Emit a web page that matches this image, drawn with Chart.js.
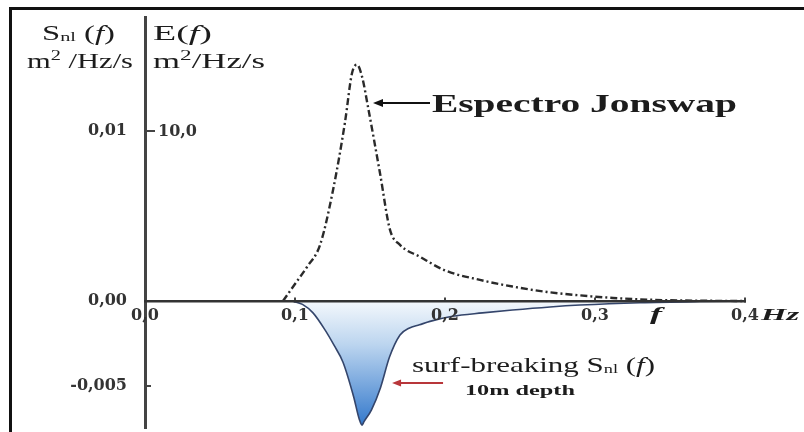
<!DOCTYPE html>
<html>
<head>
<meta charset="utf-8">
<script src="https://cdn.jsdelivr.net/npm/chart.js@4.4.1/dist/chart.umd.min.js"></script>
<style>
  html, body { margin: 0; padding: 0; background: #fff; }
  #wrap { position: relative; width: 804px; height: 432px; }
  #frame { position: absolute; left: 9px; top: 7px; width: 792px; height: 425px;
           border-left: 3px solid #111; border-top: 3px solid #111; pointer-events: none; }
</style>
</head>
<body>
<div id="wrap"><canvas id="chart" width="804" height="432"></canvas><div id="frame"></div></div>
<script>
// ─── DADOS ───
// espectro Jonswap E(f), m2/Hz/s
const jonswapFreq = [0.092, 0.100, 0.108, 0.1167, 0.1253, 0.1333, 0.138, 0.1413, 0.1447, 0.1487, 0.1567, 0.1633,
                     0.170, 0.1833, 0.200, 0.2233, 0.245, 0.268, 0.290, 0.312, 0.335, 0.357, 0.380, 0.400];
const jonswapE = [0, 1.0, 2.0, 3.3, 6.5, 10.5, 13.4, 13.9, 13.2, 11.4, 7.5, 4.2,
                  3.3, 2.6, 1.8, 1.24, 0.85, 0.53, 0.33, 0.18, 0.08, 0.03, 0.01, 0];

// surf-breaking Snl(f), 10m depth
const snlFreq = [0.098, 0.105, 0.112, 0.120, 0.126, 0.132, 0.139, 0.143, 0.1447, 0.146, 0.151, 0.157, 0.163,
                 0.170, 0.176, 0.183, 0.190, 0.205, 0.225, 0.245, 0.270, 0.290, 0.330, 0.370, 0.400];
const snlValues = [0, -0.0002, -0.0007, -0.0017, -0.0026, -0.0036, -0.0056, -0.0070, -0.0073, -0.0071, -0.0064, -0.0051, -0.0033,
                   -0.0020, -0.0016, -0.0014, -0.0012, -0.0009, -0.0007, -0.00053, -0.00035, -0.00024, -0.0001, -0.00003, 0];

const xTicks = [0, 0.1, 0.2, 0.3, 0.4];
const xTickLabels = ['0,0', '0,1', '0,2', '0,3', '0,4'];
const snlTicks = [-0.005, 0, 0.01];
const snlTickLabels = ['-0,005', '0,00', '0,01'];
const eTicks = [10];
const eTickLabels = ['10,0'];

const SERIF = '"Liberation Serif", "Times New Roman", serif';
const TICKFONT = { family: '"DejaVu Serif", serif', weight: 'bold', size: 16 };

// texto em "pedaços" (subscrito, itálico), esticado até a largura pedida
function drawRuns(ctx, runs, x, y, targetW, align) {
  ctx.save();
  ctx.textBaseline = 'alphabetic';
  ctx.textAlign = 'left';
  let w = 0;
  runs.forEach(r => { ctx.font = r[1]; w += ctx.measureText(r[0]).width; });
  const sx = targetW ? targetW / w : 1;
  const x0 = align === 'center' ? x - (w * sx) / 2 : x;
  ctx.translate(x0, y);
  ctx.scale(sx, 1);
  let pos = 0;
  runs.forEach(r => {
    ctx.font = r[1];
    ctx.fillText(r[0], pos, r[2] || 0);
    pos += ctx.measureText(r[0]).width;
  });
  ctx.restore();
}

function arrow(ctx, x1, y1, x2, y2, color, head) {
  ctx.save();
  ctx.strokeStyle = color;
  ctx.fillStyle = color;
  ctx.lineWidth = 2;
  ctx.beginPath();
  ctx.moveTo(x1, y1);
  ctx.lineTo(x2 + head, y2);
  ctx.stroke();
  ctx.beginPath();
  ctx.moveTo(x2, y2);
  ctx.lineTo(x2 + head + 2, y2 - head * 0.5);
  ctx.lineTo(x2 + head + 2, y2 + head * 0.5);
  ctx.closePath();
  ctx.fill();
  ctx.restore();
}

const annotations = {
  id: 'annotations',
  afterDraw(chart) {
    const { ctx, scales } = chart;
    const x = scales.x, ys = scales.y, ye = scales.yE;
    const ax = x.getPixelForValue(0);

    ctx.save();
    ctx.fillStyle = '#1c1c1c';

    // eixo E(f): marca e rótulo à direita do eixo
    ctx.strokeStyle = '#444';
    ctx.lineWidth = 2;
    eTicks.forEach((v, i) => {
      const py = ye.getPixelForValue(v);
      ctx.beginPath(); ctx.moveTo(ax, py); ctx.lineTo(ax + 10, py); ctx.stroke();
      ctx.font = `bold ${TICKFONT.size}px ${TICKFONT.family}`;
      ctx.fillStyle = '#333';
      ctx.textBaseline = 'middle';
      ctx.fillText(eTickLabels[i], ax + 13, py + 1);
    });
    const p5 = ys.getPixelForValue(-0.005);
    ctx.beginPath(); ctx.moveTo(ax, p5); ctx.lineTo(ax + 6, p5); ctx.stroke();

    ctx.fillStyle = '#1c1c1c';
    // títulos dos eixos
    drawRuns(ctx, [['S', `21px ${SERIF}`], ['nl', `13px ${SERIF}`, 1], [' (', `21px ${SERIF}`], ['f', `italic 21px ${SERIF}`], [')', `21px ${SERIF}`]], 42, 40, 73);
    drawRuns(ctx, [['m', `21px ${SERIF}`], ['2', `14px ${SERIF}`, -8], [' /Hz/s', `21px ${SERIF}`]], 27, 68, 106);
    drawRuns(ctx, [['E(', `21px ${SERIF}`], ['f', `italic 21px ${SERIF}`], [')', `21px ${SERIF}`]], ax + 8, 40, 59);
    drawRuns(ctx, [['m', `21px ${SERIF}`], ['2', `14px ${SERIF}`, -8], ['/Hz/s', `21px ${SERIF}`]], ax + 8, 68, 112);

    // Espectro Jonswap
    const ej = ye.getPixelForValue(11.65);
    arrow(ctx, x.getPixelForValue(0.190), ej, x.getPixelForValue(0.152), ej, '#111', 8);
    drawRuns(ctx, [['Espectro Jonswap', `bold 26px ${SERIF}`]], x.getPixelForValue(0.1913), ej + 9, 305);

    // surf-breaking Snl(f)
    drawRuns(ctx, [['surf-breaking S', `22px ${SERIF}`], ['nl', `13px ${SERIF}`, 1], [' (', `22px ${SERIF}`], ['f', `italic 22px ${SERIF}`], [')', `22px ${SERIF}`]],
      x.getPixelForValue(0.178), ys.getPixelForValue(-0.00376) + 7, 243);
    drawRuns(ctx, [['10m depth', `bold 15px ${SERIF}`]], x.getPixelForValue(0.2133), ys.getPixelForValue(-0.00524) + 5, 110);
    const ra = ys.getPixelForValue(-0.00482);
    arrow(ctx, x.getPixelForValue(0.1987), ra, x.getPixelForValue(0.1647), ra, '#b8363a', 7);

    // f e Hz no eixo x
    drawRuns(ctx, [['f', `italic bold 19px ${SERIF}`]], x.getPixelForValue(0.3367), ys.getPixelForValue(0) + 19, 12);
    drawRuns(ctx, [['Hz', `italic bold 16px ${SERIF}`]], x.getPixelForValue(0.4107), ys.getPixelForValue(0) + 19, 38);
    ctx.restore();
  }
};

const snlMin = Math.min(...snlValues);

new Chart(document.getElementById('chart'), {
  type: 'line',
  data: {
    datasets: [
      {
        label: 'Snl',
        yAxisID: 'y',
        data: snlFreq.map((f, i) => ({ x: f, y: snlValues[i] })),
        borderColor: '#34456b',
        borderWidth: 1.6,
        pointRadius: 0,
        cubicInterpolationMode: 'monotone',
        fill: 'origin',
        clip: false,
        backgroundColor: c => {
          const { chart } = c;
          if (!chart.chartArea) return 'rgba(70,130,200,0.5)';
          const y0 = chart.scales.y.getPixelForValue(0);
          const y1 = chart.scales.y.getPixelForValue(snlMin);
          const g = chart.ctx.createLinearGradient(0, y0, 0, y1);
          g.addColorStop(0, '#f4f8fc');
          g.addColorStop(0.35, '#bcd5ef');
          g.addColorStop(1, '#3479cc');
          return g;
        }
      },
      {
        label: 'Jonswap',
        yAxisID: 'yE',
        data: jonswapFreq.map((f, i) => ({ x: f, y: jonswapE[i] })),
        borderColor: '#2a2a2a',
        borderWidth: 2.4,
        borderDash: [7, 3, 2, 3],
        pointRadius: 0,
        cubicInterpolationMode: 'monotone',
        fill: false
      }
    ]
  },
  options: {
    responsive: false,
    animation: false,
    devicePixelRatio: 1,
    layout: { padding: { top: 17, bottom: 4, left: 0, right: 59 } },
    plugins: { legend: { display: false }, tooltip: { enabled: false } },
    scales: {
      x: {
        type: 'linear',
        min: 0,
        max: 0.4,
        position: { y: 0 },
        afterBuildTicks: s => { s.ticks = xTicks.map(v => ({ value: v })); },
        ticks: {
          z: 1,
          callback: v => xTickLabels[xTicks.indexOf(v)],
          font: TICKFONT,
          color: '#333',
          padding: 10,
          maxRotation: 0,
          autoSkip: false
        },
        grid: {
          drawOnChartArea: false,
          tickLength: -5,
          lineWidth: 2,
          tickColor: c => (c.tick && c.tick.value === 0 ? 'rgba(0,0,0,0)' : '#444')
        },
        border: { color: '#333', width: 2.5, z: 1 }
      },
      y: {
        type: 'linear',
        position: 'left',
        min: -0.007471,
        max: 0.016706,
        afterBuildTicks: s => { s.ticks = snlTicks.map(v => ({ value: v })); },
        afterFit: s => { s.width = 145; s.paddingTop = 0; s.paddingBottom = 0; },
        ticks: {
          callback: v => snlTickLabels[snlTicks.indexOf(v)],
          font: TICKFONT,
          color: '#333',
          padding: 10
        },
        grid: { display: false },
        border: { color: '#444', width: 3 }
      },
      yE: {
        type: 'linear',
        display: false,
        min: -7.471,
        max: 16.706
      }
    }
  },
  plugins: [annotations]
});
</script>
</body>
</html>
